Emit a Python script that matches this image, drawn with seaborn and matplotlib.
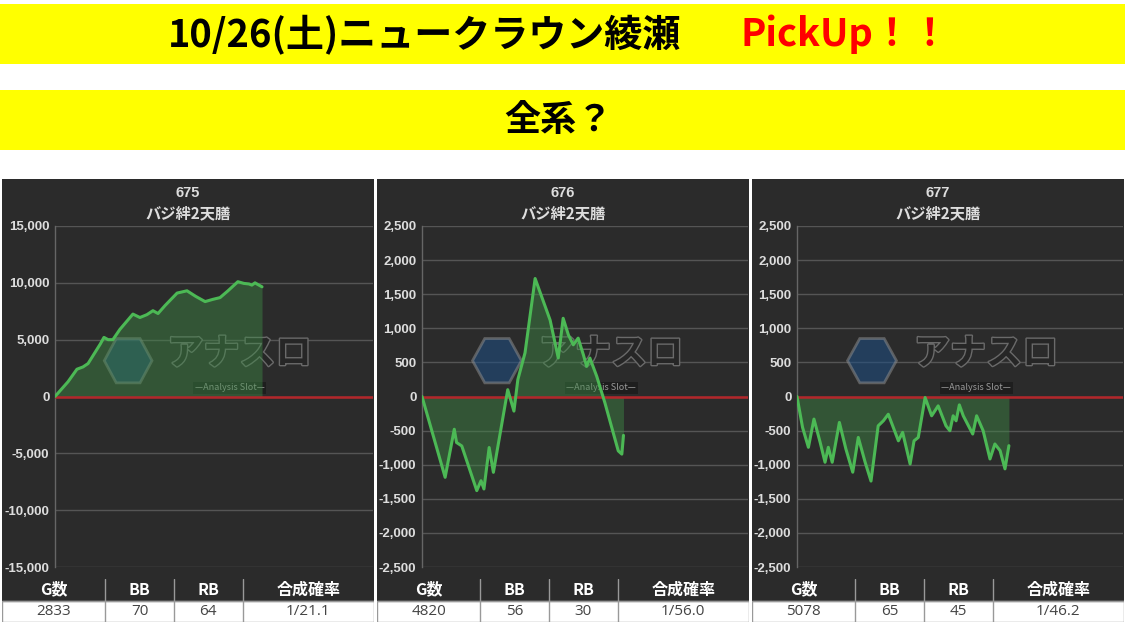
import matplotlib
matplotlib.use("Agg")
import matplotlib.pyplot as plt
import matplotlib.ticker as mticker
import matplotlib.patheffects as pe
from matplotlib.patches import RegularPolygon
import seaborn as sns
import pandas as pd

# ---------------- data ----------------
machines = ["675", "676", "677"]
machine_name = "バジ絆2天膳"

x_675 = [0, 4.1, 6.9, 8.8, 10.4, 14.2, 15.4, 16.7, 18.2, 20.4, 24.5, 26.7, 28.9, 30.8,
         32.4, 34.6, 38.4, 41.5, 44.3, 47.2, 49.7, 51.9, 54.4, 57.5, 59.4, 61.0, 61.9,
         62.9, 63.8, 65.1]
y_675 = [0, 1300, 2400, 2600, 2900, 4600, 5200, 5000, 5000, 5900, 7250, 6950, 7200, 7550,
         7300, 8000, 9100, 9300, 8800, 8350, 8550, 8700, 9300, 10100, 9950, 9900, 9800,
         10000, 9850, 9650]

x_676 = [0, 7.1, 9.9, 10.6, 12.2, 16.8, 18.1, 19.0, 20.6, 21.9, 26.3, 28.2, 29.4, 31.6,
         34.7, 39.3, 41.8, 43.3, 44.9, 46.4, 47.9, 49.5, 50.5, 51.5, 53.6, 56.1, 60.2,
         61.3, 61.8]
y_676 = [0, -1185, -480, -675, -725, -1380, -1235, -1356, -748, -1112, 100, -214, 248, 640,
         1730, 1120, 565, 1147, 904, 758, 856, 612, 442, 564, 296, -92, -797, -845, -570]

x_677 = [0, 1.7, 3.5, 5.2, 7.1, 8.6, 9.6, 10.8, 13.0, 15.0, 17.1, 18.8, 20.9, 22.7, 24.9,
         26.5, 28.0, 31.1, 32.4, 34.7, 35.9, 37.2, 39.3, 41.3, 43.3, 45.7, 46.9, 47.9,
         48.8, 49.8, 51.0, 53.9, 55.1, 57.1, 59.2, 60.7, 62.3, 63.8, 65.0]
y_677 = [0, -453, -745, -331, -672, -964, -745, -964, -380, -770, -1110, -600, -964, -1240,
         -430, -356, -260, -650, -526, -990, -650, -600, -15, -283, -137, -430, -502, -283,
         -356, -123, -283, -550, -283, -502, -916, -696, -794, -1061, -721]

series_x = [x_675, x_676, x_677]
series_y = [y_675, y_676, y_677]
y_limits = [15000, 2500, 2500]
y_steps = [5000, 500, 500]

table_headers = ["G数", "BB", "RB", "合成確率"]
games = ["2833", "4820", "5078"]
bb = ["70", "56", "65"]
rb = ["64", "30", "45"]
prob = ["1/21.1", "1/56.0", "1/46.2"]

title_black = "10/26(土)ニュークラウン綾瀬"
title_red = "PickUp！！"
subtitle = "全系？"

# ---------------- style ----------------
sns.set_theme(style="dark")
plt.rcParams['font.family'] = ['Noto Sans CJK JP', 'DejaVu Sans']

W, H = 1125, 624
fig = plt.figure(figsize=(W / 100, H / 100), dpi=100)
fig.patch.set_facecolor("white")


def box(x0, y0, x1, y1):
    return [x0 / W, 1 - y1 / H, (x1 - x0) / W, (y1 - y0) / H]


# banners
for (y0, y1) in [(4, 64), (90, 150)]:
    b = fig.add_axes(box(0, y0, W, y1))
    b.set_facecolor("#ffff00")
    b.set_xticks([]); b.set_yticks([])
    for s in b.spines.values():
        s.set_visible(False)

fig.text(168 / W, 1 - 34 / H, title_black, ha="left", va="center",
         fontsize=27.4, fontweight="bold", color="black")
fig.text(740 / W, 1 - 34 / H, title_red, ha="left", va="center",
         fontsize=27.4, fontweight="bold", color="#ff0000")
fig.text(558 / W, 1 - 121 / H, subtitle, ha="center", va="center",
         fontsize=26, fontweight="bold", color="black")

panel_x = [(2, 374), (377, 749), (752, 1124)]
plot_left = [55, 422, 797]

bg = "#2b2b2b"
grid_c = "#555555"
text_c = "#dddddd"

for i in range(3):
    px0, px1 = panel_x[i]
    # panel background
    pb = fig.add_axes(box(px0, 179, px1, 579))
    pb.set_facecolor(bg)
    pb.set_xticks([]); pb.set_yticks([])
    for s in pb.spines.values():
        s.set_visible(False)
    pb.text(0.5, 1 - 14 / 400, machines[i], transform=pb.transAxes, ha="center",
            va="center", fontsize=10.5, fontweight="bold", color=text_c,
            family=["Liberation Sans", "DejaVu Sans"])
    pb.text(0.5, 1 - 34 / 400, machine_name, transform=pb.transAxes, ha="center",
            va="center", fontsize=11, fontweight="bold", color=text_c)

    ax = fig.add_axes(box(plot_left[i], 226, px1 - 1, 567))
    ax.set_facecolor("none")
    lim = y_limits[i]
    ax.set_ylim(-lim, lim)
    ax.set_xlim(0, 100)
    ax.set_yticks(range(-lim, lim + 1, y_steps[i]))
    ax.yaxis.set_major_formatter(mticker.FuncFormatter(lambda v, p: f"{int(v):,}"))
    ax.set_xticks([])
    ax.tick_params(axis="y", colors=text_c, labelsize=9.5, length=0, pad=4)
    for lab in ax.get_yticklabels():
        lab.set_fontweight("bold")
        lab.set_family(["Liberation Sans", "DejaVu Sans"])
    ax.grid(axis="y", color=grid_c, linewidth=1)
    ax.set_axisbelow(True)
    for s in ["top", "right", "bottom"]:
        ax.spines[s].set_visible(False)
    ax.spines["left"].set_color("#666666")
    ax.spines["left"].set_linewidth(1)

    # watermark (logo)
    ax.add_patch(RegularPolygon((0.23, 0.605), numVertices=6, radius=0.075,
                                orientation=0.5236, transform=ax.transAxes,
                                facecolor="#1d4f86", edgecolor="#8a8a8a",
                                linewidth=2, alpha=0.55, zorder=1))
    ax.text(0.58, 0.625, "アナスロ", transform=ax.transAxes, ha="center", va="center",
            fontsize=26, fontweight="bold", color="#262626",
            zorder=1, path_effects=[pe.withStroke(linewidth=2, foreground="#6a6a6a")])
    ax.text(0.55, 0.525, "—Analysis Slot—", transform=ax.transAxes, ha="center",
            va="center", fontsize=6.5, color="#9a9a9a", zorder=1,
            bbox=dict(facecolor="#1e1e1e", edgecolor="none", pad=1.2))

    df = pd.DataFrame({"x": series_x[i], "y": series_y[i]})
    ax.fill_between(df["x"], df["y"], 0, color="#3d8a45", alpha=0.45, linewidth=0,
                    zorder=2)
    ax.axhline(0, color="#b3262a", linewidth=1.8, zorder=3)
    sns.lineplot(data=df, x="x", y="y", ax=ax, color="#4cb955", linewidth=2.2,
                 zorder=4)
    ax.set_xlabel(""); ax.set_ylabel("")

    # table
    cols = [0, 0.277, 0.462, 0.647, 1.0]
    tbh = fig.add_axes(box(px0, 579, px1, 622))
    tbh.set_xlim(0, 1); tbh.set_ylim(0, 2)
    tbh.axis("off")
    tbh.add_patch(plt.Rectangle((0, 1), 1, 1, color=bg, zorder=0))
    tbh.add_patch(plt.Rectangle((0, 0), 1, 1, facecolor="white", edgecolor="#999999",
                                linewidth=1, zorder=0))
    vals = [games[i], bb[i], rb[i], prob[i]]
    for c in range(4):
        cx = (cols[c] + cols[c + 1]) / 2
        tbh.text(cx, 1.5, table_headers[c], ha="center", va="center", fontsize=11.5,
                 fontweight="bold", color="white")
        tbh.text(cx, 0.48, vals[c], ha="center", va="center", fontsize=11,
                 color="#444444", family=["Open Sans", "DejaVu Sans"])
    for c in cols[1:-1]:
        tbh.plot([c, c], [0, 2], color="#999999", linewidth=1)
    tbh.plot([0, 1], [1, 1], color="#999999", linewidth=1)

fig.savefig("out.png", dpi=100, facecolor="white")
